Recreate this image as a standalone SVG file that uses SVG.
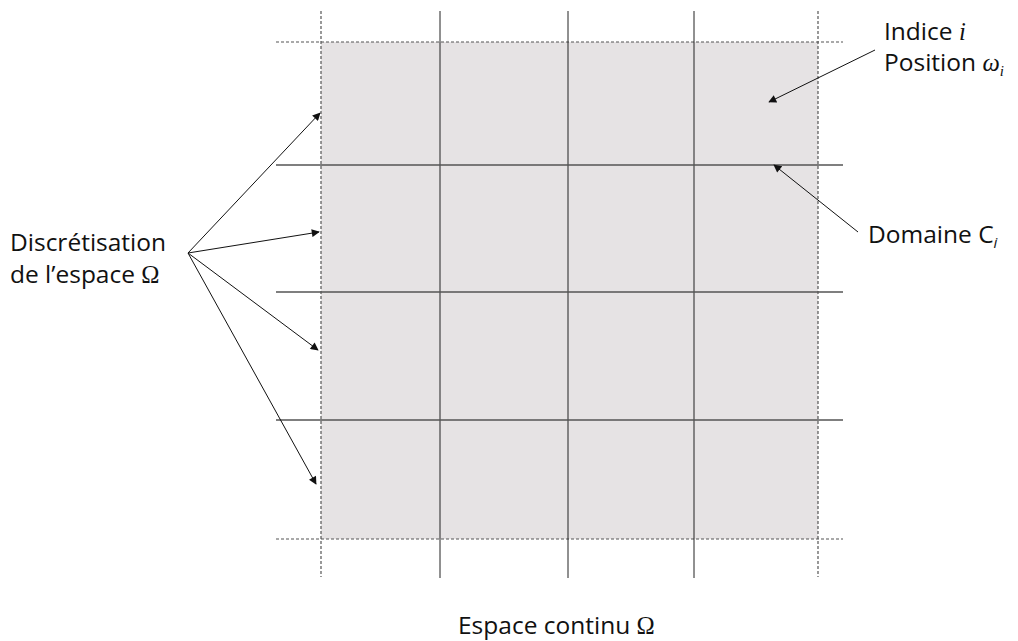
<svg xmlns="http://www.w3.org/2000/svg" width="1018" height="641" viewBox="0 0 1018 641">
<style>
.t{font-family:"Open Sans","Noto Sans",sans-serif;font-size:24.5px;fill:#111}
.m{font-family:"Liberation Serif","DejaVu Serif",serif}
.dash{stroke:#555;stroke-width:1.2;stroke-dasharray:3 2;fill:none}
.vs{stroke:#222;stroke-width:1;fill:none}
.hs{stroke:#555;stroke-width:1.4;fill:none}
.arr{stroke:#111;stroke-width:1;fill:none;marker-end:url(#ah)}
</style>
<defs>
<marker id="ah" viewBox="0 0 10 10" refX="9" refY="5" markerWidth="10" markerHeight="8" markerUnits="userSpaceOnUse" orient="auto">
<path d="M0,0 L10,5 L0,10 z" fill="#111"/>
</marker>
</defs>
<rect width="1018" height="641" fill="#fff"/>
<g id="domain">
<rect x="321" y="42" width="497" height="497" fill="#e6e3e4"/>
</g>
<g id="grid">
<line class="dash" x1="321" y1="11" x2="321" y2="577"/>
<line class="dash" x1="818" y1="11" x2="818" y2="577"/>
<line class="dash" x1="276" y1="42" x2="843" y2="42"/>
<line class="dash" x1="276" y1="539" x2="843" y2="539"/>
<line class="vs" x1="440" y1="11" x2="440" y2="578"/>
<line class="vs" x1="568" y1="11" x2="568" y2="578"/>
<line class="vs" x1="694" y1="11" x2="694" y2="578"/>
<line class="hs" x1="276" y1="165" x2="843" y2="165"/>
<line class="hs" x1="276" y1="292" x2="843" y2="292"/>
<line class="hs" x1="276" y1="420" x2="843" y2="420"/>
</g>
<g id="connectors">
<line class="arr" x1="188" y1="253" x2="320" y2="113"/>
<line class="arr" x1="188" y1="253" x2="319" y2="232"/>
<line class="arr" x1="188" y1="253" x2="318" y2="350"/>
<line class="arr" x1="188" y1="253" x2="316" y2="484"/>
<line class="arr" x1="875" y1="50" x2="769" y2="102"/>
<line class="arr" x1="858" y1="232" x2="774" y2="165"/>
</g>
<g id="label-disc">
<text class="t" x="10" y="251">Discrétisation</text>
<text class="t" x="10" y="283">de l’espace <tspan class="m">Ω</tspan></text>
</g>
<g id="label-indice">
<text class="t" x="884" y="40">Indice <tspan class="m" font-style="italic">i</tspan></text>
<text class="t" x="884" y="71">Position <tspan class="m" font-style="italic">ω</tspan><tspan class="m" font-style="italic" font-size="15" dy="5">i</tspan></text>
</g>
<g id="label-domaine">
<text class="t" x="868" y="243">Domaine C<tspan font-style="italic" font-size="15" dy="5">i</tspan></text>
</g>
<g id="label-continu">
<text class="t" x="458" y="634">Espace continu <tspan class="m">Ω</tspan></text>
</g>
</svg>
